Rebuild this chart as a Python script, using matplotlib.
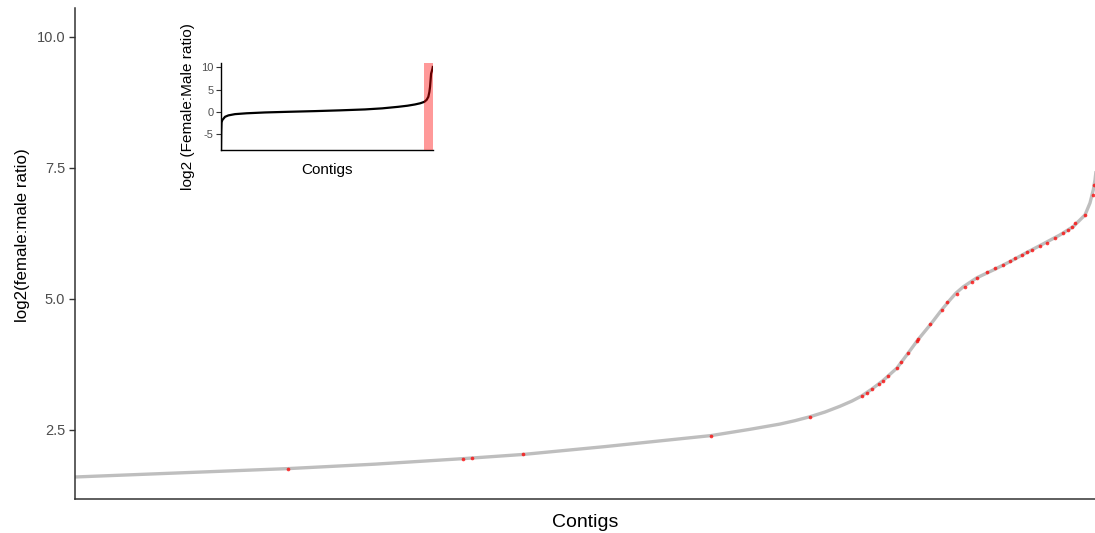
import matplotlib
matplotlib.use("Agg")
import matplotlib.pyplot as plt
import numpy as np

plt.rcParams['font.family'] = ['Liberation Sans', 'DejaVu Sans']
plt.rcParams['axes.unicode_minus'] = False

# Main curve: sorted contigs (rank) vs log2(female:male ratio)
curve_rank = [0, 100, 213, 300, 388, 448, 530, 636, 675, 705, 720, 735, 750, 765,
              777, 787, 797, 808, 822, 833, 843, 856.7, 866.7, 875, 881, 888.3,
              901.7, 918.3, 935, 953.3, 968.3, 985, 998.3, 1010, 1015, 1018.3,
              1020, 1022]
curve_val = [1.60, 1.675, 1.76, 1.845, 1.95, 2.03, 2.18, 2.39, 2.51, 2.61, 2.675,
             2.75, 2.84, 2.95, 3.05, 3.15, 3.28, 3.44, 3.68, 3.96, 4.22, 4.54, 4.79,
             4.98, 5.11, 5.23, 5.40, 5.55, 5.71, 5.90, 6.05, 6.22, 6.38, 6.60, 6.83,
             7.08, 7.27, 7.6]

# Highlighted (female-biased) contigs
red_rank = [213, 388, 397, 448, 636, 735, 786.7, 791.7, 796.7, 804.3, 808.3, 813.3,
            821.7, 826, 833.3, 841.7, 843.3, 855, 866.7, 871.7, 881.7, 890, 896.7,
            901.7, 911.7, 920, 928.3, 935, 940, 946.7, 951.7, 956.7, 965, 971.7,
            980, 988.3, 993.3, 996.7, 1000, 1010, 1018.3, 1019.3]
red_val = [1.76, 1.95, 1.96, 2.03, 2.39, 2.75, 3.15, 3.20, 3.28, 3.38, 3.44, 3.52,
           3.68, 3.79, 3.96, 4.20, 4.24, 4.52, 4.79, 4.93, 5.10, 5.22, 5.33, 5.40,
           5.52, 5.59, 5.65, 5.73, 5.78, 5.84, 5.90, 5.94, 6.01, 6.06, 6.16, 6.25,
           6.32, 6.38, 6.44, 6.60, 6.99, 7.17]

# Inset: whole distribution (percentile rank)
inset_rank = [0, 0.1, 0.25, 0.6, 1.9, 3.5, 6.6, 12, 20.8, 32, 44.3, 56, 67.9, 76,
              83.6, 88, 91.5, 94, 95.9, 97, 97.8, 98.3, 98.6, 99.1, 99.7, 99.9]
inset_val = [-8.6, -4.5, -2.4, -1.87, -1.12, -0.8, -0.52, -0.33, -0.14, 0.01, 0.16,
             0.33, 0.54, 0.78, 1.13, 1.38, 1.66, 1.93, 2.25, 2.7, 3.38, 4.5, 5.6,
             8.6, 9.6, 10.1]
inset_highlight = (95.75, 100)

main_yticks = [2.5, 5.0, 7.5, 10.0]
inset_yticks = [-5, 0, 5, 10]

fig = plt.figure(figsize=(10.95, 5.33), dpi=100)
ax = fig.add_axes([75/1095, 34/533, 1020/1095, 491/533])
ax.plot(curve_rank, curve_val, color='#BEBEBE', lw=2.4, solid_capstyle='butt',
        solid_joinstyle='round', zorder=2)
ax.scatter(red_rank, red_val, s=7, color='red', alpha=0.75, linewidths=0, zorder=3)
ax.set_xlim(0, 1020)
ax.set_ylim(1.18, 10.55)
ax.set_yticks(main_yticks)
ax.set_yticklabels([f"{v:.1f}" for v in main_yticks])
ax.set_xticks([])
for s in ['top', 'right']:
    ax.spines[s].set_visible(False)
for s in ['left', 'bottom']:
    ax.spines[s].set_color('#333333')
    ax.spines[s].set_linewidth(1.1)
ax.tick_params(axis='y', colors='#333333', labelcolor='#4D4D4D', labelsize=10.5,
               length=4, width=1, pad=3)
ax.set_xlabel('Contigs', fontsize=14, labelpad=10.5)
ax.set_ylabel('log2(female:male ratio)', fontsize=12.2)
ax.yaxis.set_label_coords(-0.0441, 0.5377)

ins = fig.add_axes([221/1095, 383/533, 212/1095, 87/533])
ins.plot(inset_rank, inset_val, color='black', lw=1.6, zorder=2)
ins.axvspan(inset_highlight[0], inset_highlight[1], color='red', alpha=0.4, lw=0, zorder=3)
ins.set_xlim(0, 100)
ins.set_ylim(-8.6, 11.0)
ins.set_yticks(inset_yticks)
ins.set_xticks([])
for s in ['top', 'right']:
    ins.spines[s].set_visible(False)
for s in ['left', 'bottom']:
    ins.spines[s].set_color('black')
    ins.spines[s].set_linewidth(1.0)
ins.tick_params(axis='y', colors='#333333', labelcolor='#4D4D4D', labelsize=8,
                length=3.5, width=0.8, pad=2)
ins.set_xlabel('Contigs', fontsize=11, labelpad=9)
ins.set_ylabel('log2 (Female:Male ratio)', fontsize=11.1, labelpad=4)

fig.savefig('out.png', dpi=100)
